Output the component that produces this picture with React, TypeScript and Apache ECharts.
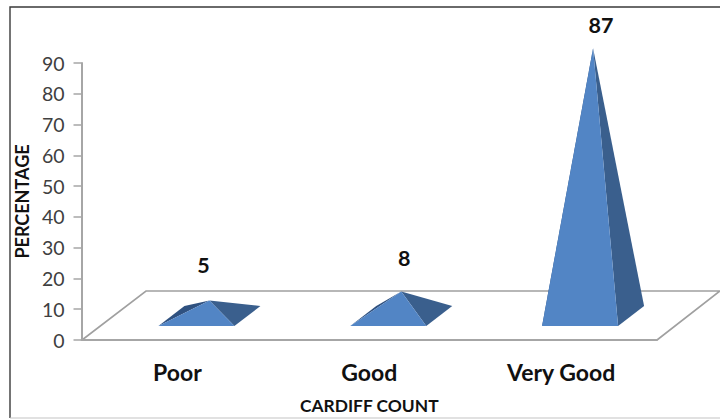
import React, { useEffect, useRef } from "react";
import * as echarts from "echarts";

const categories = ["Poor", "Good", "Very Good"];
const values = [5, 8, 87];
const valueLabels = ["5", "8", "87"];
const yTicks = { min: 0, max: 90, interval: 10 };
const xName = "CARDIFF COUNT";
const yName = "PERCENTAGE";
const labelShift = [[-6, -36], [3, -33], [8, -23]];

const FONT = "Lato, 'Open Sans', sans-serif";

export default function App() {
  const ref = useRef<HTMLDivElement>(null);
  useEffect(() => {
    document.body.style.margin = "0";
    const chart = echarts.init(ref.current!, undefined, { renderer: "svg" });
    chart.setOption({
      animation: false,
      backgroundColor: "#ffffff",
      grid: { left: 81.5, right: 63, top: 63, bottom: 79, containLabel: false },
      graphic: [
        { type: "polyline", silent: true, z: 0, shape: { points: [[10, 418], [10, 7], [720, 7]] }, style: { fill: "none", stroke: "#3a3a3a", lineWidth: 1.4 } },
        { type: "line", silent: true, z: 0, shape: { x1: 10, y1: 418, x2: 720, y2: 418 }, style: { stroke: "#c4c4c4", lineWidth: 1.2 } },
        { type: "polyline", silent: true, z: 0, shape: { points: [[82, 340], [146, 291], [720, 291], [657, 340]] }, style: { fill: "none", stroke: "#a0a0a0", lineWidth: 1.6 } },
      ],
      xAxis: {
        type: "category",
        data: categories,
        name: xName,
        nameLocation: "middle",
        nameGap: 57,
        nameTextStyle: { fontFamily: FONT, fontWeight: "bold", fontSize: 17.4, color: "#111111" },
        axisLine: { show: true, lineStyle: { color: "#a6a6a6", width: 2 } },
        axisTick: { show: false },
        axisLabel: { fontFamily: FONT, fontWeight: "bold", fontSize: 23, color: "#111111", margin: 20 },
      },
      yAxis: {
        type: "value",
        ...yTicks,
        name: yName,
        nameLocation: "middle",
        nameRotate: 90,
        nameGap: 50,
        nameTextStyle: { fontFamily: FONT, fontWeight: "bold", fontSize: 18, color: "#111111" },
        axisLine: { show: true, lineStyle: { color: "#a6a6a6", width: 2 } },
        axisTick: { show: true, length: 8, lineStyle: { color: "#a6a6a6", width: 1.5 } },
        axisLabel: { fontFamily: FONT, fontSize: 19.5, color: "#404040", margin: 17 },
        splitLine: { show: false },
      },
      series: [
        {
          type: "custom",
          clip: false,
          data: values.map((v, i) => [i, v]),
          encode: { x: 0, y: 1 },
          renderItem: (_p: any, api: any) => {
            const i = api.value(0);
            const top = api.coord([i, api.value(1)]);
            const base = api.coord([i, 0]);
            const x = base[0];
            const y = base[1];
            const fl = [x - 19, y - 14];
            const fr = [x + 57, y - 14];
            const br = [x + 83, y - 34];
            const bl = [x + 7, y - 34];
            const apex = [x + 32, top[1] - 24];
            return {
              type: "group",
              children: [
                { type: "polygon", shape: { points: [fl, bl, apex] }, style: { fill: "#2f5180" } },
                { type: "polygon", shape: { points: [fr, br, apex] }, style: { fill: "#3a5f8d" } },
                { type: "polygon", shape: { points: [fl, fr, apex] }, style: { fill: "#5285c5" } },
                {
                  type: "text",
                  style: {
                    text: valueLabels[i],
                    x: apex[0] + labelShift[i][0],
                    y: apex[1] + labelShift[i][1],
                    align: "center",
                    verticalAlign: "middle",
                    font: `bold 21.5px ${FONT}`,
                    fill: "#111111",
                  },
                },
              ],
            };
          },
        },
      ],
    });
    return () => chart.dispose();
  }, []);
  return <div ref={ref} style={{ position: "fixed", left: 0, top: 0, width: 720, height: 419 }} />;
}
